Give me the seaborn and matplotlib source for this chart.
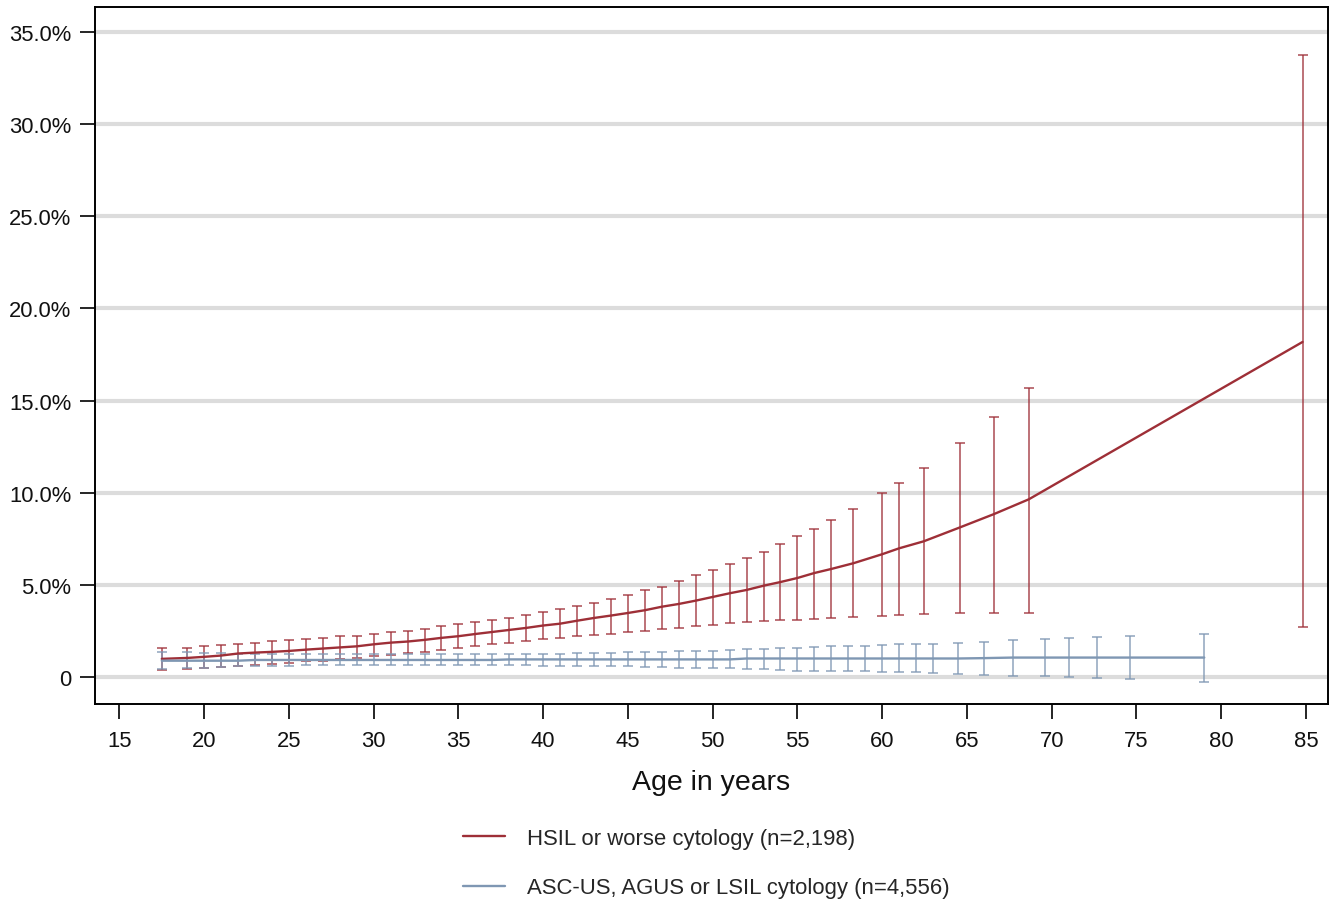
import numpy as np
import pandas as pd
import matplotlib
matplotlib.use("Agg")
import matplotlib.pyplot as plt
import seaborn as sns

# ---------------- data ----------------
hsil_age = [17.5] + list(range(19, 58)) + [58.3, 60, 61, 62.45, 64.6, 66.6, 68.65, 84.8]
hsil_val = [0.98, 1.03, 1.09, 1.16, 1.27, 1.32, 1.36, 1.41, 1.48, 1.54,
            1.60, 1.66, 1.77, 1.86, 1.92, 2.01, 2.12, 2.21, 2.33, 2.44,
            2.55, 2.66, 2.79, 2.89, 3.05, 3.20, 3.33, 3.47, 3.62, 3.81,
            3.96, 4.14, 4.34, 4.54, 4.72, 4.95, 5.15, 5.37, 5.64, 5.86,
            6.17, 6.66, 6.98, 7.36, 8.12, 8.84, 9.64, 18.18]
hsil_hi = [1.56, 1.59, 1.70, 1.74, 1.81, 1.84, 1.95, 2.00, 2.06, 2.13,
           2.20, 2.24, 2.35, 2.46, 2.51, 2.60, 2.75, 2.86, 2.97, 3.11,
           3.20, 3.36, 3.51, 3.67, 3.87, 4.02, 4.23, 4.47, 4.72, 4.90,
           5.23, 5.52, 5.82, 6.12, 6.46, 6.80, 7.22, 7.63, 8.01, 8.52,
           9.13, 9.97, 10.52, 11.32, 12.71, 14.12, 15.68, 33.75]
hsil_lo = [0.38, 0.42, 0.47, 0.52, 0.61, 0.65, 0.70, 0.76, 0.85, 0.88,
           0.98, 1.05, 1.12, 1.21, 1.30, 1.34, 1.46, 1.56, 1.66, 1.77,
           1.84, 1.97, 2.06, 2.13, 2.22, 2.28, 2.35, 2.46, 2.51, 2.62,
           2.68, 2.75, 2.82, 2.91, 2.97, 3.02, 3.08, 3.11, 3.16, 3.22,
           3.26, 3.30, 3.36, 3.42, 3.47, 3.47, 3.47, 2.70]

asc_age = [17.5] + list(range(19, 64)) + [64.5, 66, 67.7, 69.6, 71, 72.65, 74.6, 79]
asc_val = ([0.88] * 5 + [0.92] * 15 + [0.95] * 14 + [1.00] * 12 + [1.00, 1.02]
           + [1.05] * 6)
asc_lo = [0.43, 0.47, 0.50, 0.54, 0.57, 0.59, 0.60, 0.61, 0.62, 0.62,
          0.62, 0.62, 0.62, 0.62, 0.62, 0.62, 0.62, 0.62, 0.62, 0.62,
          0.62, 0.62, 0.61, 0.61, 0.60, 0.59, 0.58, 0.57, 0.55, 0.53,
          0.51, 0.49, 0.47, 0.47, 0.44, 0.41, 0.38, 0.34, 0.33, 0.32,
          0.31, 0.30, 0.28, 0.25, 0.25, 0.20,
          0.15, 0.09, 0.07, 0.04, 0.02, -0.04, -0.09, -0.25]
asc_hi = [1.37, 1.34, 1.31, 1.28, 1.26, 1.25, 1.24, 1.23, 1.22, 1.22,
          1.22, 1.22, 1.22, 1.22, 1.22, 1.22, 1.22, 1.22, 1.22, 1.22,
          1.26, 1.27, 1.27, 1.27, 1.28, 1.29, 1.31, 1.33, 1.35, 1.37,
          1.39, 1.41, 1.43, 1.46, 1.49, 1.52, 1.55, 1.59, 1.62, 1.66,
          1.66, 1.70, 1.75, 1.76, 1.81, 1.81,
          1.86, 1.92, 2.03, 2.06, 2.13, 2.17, 2.21, 2.35]

hsil_label = "HSIL or worse cytology (n=2,198)"
asc_label = "ASC-US, AGUS or LSIL cytology (n=4,556)"
x_ticks = list(range(15, 90, 5))
y_ticks = [0, 5, 10, 15, 20, 25, 30, 35]
y_ticklabels = ["0"] + [f"{v:.1f}%" for v in y_ticks[1:]]

red = "#9E2F37"
blue = "#7F97B3"

# ---------------- plot ----------------
sns.set_theme(style="white")
plt.rcParams["font.family"] = ["Liberation Sans", "DejaVu Sans"]

fig = plt.figure(figsize=(13.39, 9.04), dpi=100)
ax = fig.add_axes([95 / 1339, 1 - 705 / 904, (1328 - 95) / 1339, (705 - 8) / 904])

df_h = pd.DataFrame({"age": hsil_age, "val": hsil_val, "lo": hsil_lo, "hi": hsil_hi})
df_a = pd.DataFrame({"age": asc_age, "val": asc_val, "lo": asc_lo, "hi": asc_hi})

for y in y_ticks:
    ax.axhline(y, color="#DCDCDC", lw=3, zorder=0)

ax.errorbar(df_h["age"], df_h["val"],
            yerr=[df_h["val"] - df_h["lo"], df_h["hi"] - df_h["val"]],
            fmt="none", ecolor=red, elinewidth=1.2, capsize=3.5, capthick=1.2,
            alpha=0.8, zorder=2)
ax.errorbar(df_a["age"], df_a["val"],
            yerr=[df_a["val"] - df_a["lo"], df_a["hi"] - df_a["val"]],
            fmt="none", ecolor=blue, elinewidth=1.2, capsize=3.5, capthick=1.2,
            alpha=0.8, zorder=2)

sns.lineplot(data=df_h, x="age", y="val", ax=ax, color=red, lw=1.7,
             label=hsil_label, zorder=3, legend=False)
sns.lineplot(data=df_a, x="age", y="val", ax=ax, color=blue, lw=1.7,
             label=asc_label, zorder=3, legend=False)

ax.set_xlim(13.56, 86.3)
ax.set_ylim(-1.47, 36.36)
ax.set_xticks(x_ticks)
ax.set_xticklabels([str(t) for t in x_ticks])
ax.set_yticks(y_ticks)
ax.set_yticklabels(y_ticklabels)
ax.tick_params(axis="both", direction="out", length=11, width=1.2,
               color="black", labelsize=15.8, labelcolor="#111111", pad=6,
               bottom=True, left=True)
ax.tick_params(axis="x", pad=8)
for s in ax.spines.values():
    s.set_color("black")
    s.set_linewidth(1.4)
ax.set_xlabel("Age in years", fontsize=20.5, labelpad=13, color="#111111")
ax.set_ylabel("")

handles, labels = ax.get_legend_handles_labels()
fig.legend(handles, labels, loc="center left",
           bbox_to_anchor=(463 / 1339, 1 - 864 / 904), frameon=False,
           fontsize=15.9, handlelength=1.9, handletextpad=1.0, labelspacing=1.3,
           borderpad=0, borderaxespad=0)

fig.savefig("out.png", dpi=100, facecolor="white")
